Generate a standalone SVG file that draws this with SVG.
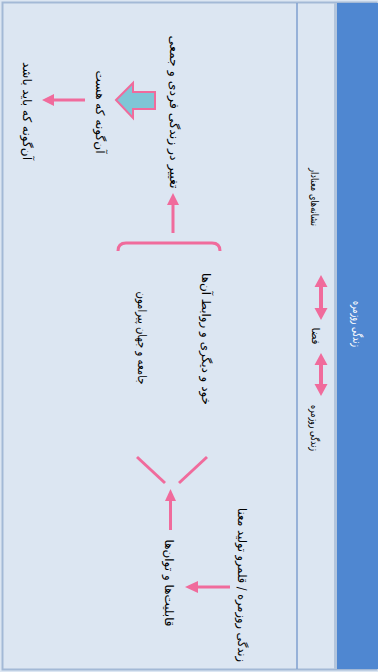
<svg xmlns="http://www.w3.org/2000/svg" width="378" height="672" viewBox="0 0 378 672">
<style>
.t{font-family:"DejaVu Sans",sans-serif;font-size:12px;fill:#000000;text-anchor:middle;dominant-baseline:central;direction:rtl}
.s{font-size:10.5px}
.w{fill:#ffffff}
.pk{fill:#f06b9c}
.ln{stroke:#f06b9c;stroke-width:3;fill:none;stroke-linecap:butt}
</style>
<rect x="0" y="0" width="378" height="672" fill="#dce6f2"/>
<rect x="2.5" y="2.5" width="374" height="667" fill="none" stroke="#a3b9d6" stroke-width="2"/>
<line x1="297" y1="3" x2="297" y2="669" stroke="#7f9fcf" stroke-width="1.5"/>
<rect x="334" y="3" width="3" height="666" fill="#b3c5dc"/>
<g id="title">
<rect x="337" y="3" width="41" height="666" fill="#4f87d1"/>
<text class="t w" x="357" y="324" transform="rotate(90 357 324)" textLength="46" lengthAdjust="spacingAndGlyphs">زندگی روزمره</text>
</g>
<g id="n-signs"><text class="t s" x="315" y="197" transform="rotate(90 315 197)" textLength="58" lengthAdjust="spacingAndGlyphs">نشانه‌های معنادار</text></g>
<g id="n-space"><text class="t s" x="316" y="336" transform="rotate(90 316 336)" textLength="17" lengthAdjust="spacingAndGlyphs">فضا</text></g>
<g id="n-daily"><text class="t s" x="315" y="428" transform="rotate(90 315 428)" textLength="46" lengthAdjust="spacingAndGlyphs">زندگی روزمره</text></g>
<g id="n-change"><text class="t" x="174" y="112" transform="rotate(90 174 112)" textLength="153" lengthAdjust="spacingAndGlyphs">تغییر در زندگی فردی و جمعی</text></g>
<g id="n-is"><text class="t" x="100" y="112" transform="rotate(90 100 112)" textLength="83" lengthAdjust="spacingAndGlyphs">آن‌گونه که هست</text></g>
<g id="n-should"><text class="t" x="27" y="111" transform="rotate(90 27 111)" textLength="98" lengthAdjust="spacingAndGlyphs">آن‌گونه که باید باشد</text></g>
<g id="n-self"><text class="t" x="206" y="339" transform="rotate(90 206 339)" textLength="132" lengthAdjust="spacingAndGlyphs">خود و دیگری و روابط آن‌ها</text></g>
<g id="n-society"><text class="t" x="142" y="338" transform="rotate(90 142 338)" textLength="93" lengthAdjust="spacingAndGlyphs">جامعه و جهان پیرامون</text></g>
<g id="n-abilities"><text class="t" x="169" y="583" transform="rotate(90 169 583)" textLength="87" lengthAdjust="spacingAndGlyphs">قابلیت‌ها و توان‌ها</text></g>
<g id="n-realm"><text class="t" x="242" y="585" transform="rotate(90 242 585)" textLength="154" lengthAdjust="spacingAndGlyphs">زندگی روزمره / قلمرو تولید معنا</text></g>
<g id="connectors">
<path class="pk" d="M321,275 L327.5,287 L323,287 L323,308 L327.5,308 L321,320 L314.5,308 L319,308 L319,287 L314.5,287 Z"/>
<path class="pk" d="M321,353 L327.5,365 L323,365 L323,384 L327.5,384 L321,396 L314.5,384 L319,384 L319,365 L314.5,365 Z"/>
<path class="ln" d="M118,251 Q118,243 126,243 L212,243 Q220,243 220,251"/>
<line class="ln" x1="173" y1="233" x2="173" y2="203"/>
<path class="pk" d="M167,205 L179,205 L173,193 Z"/>
<line class="ln" x1="137" y1="457" x2="165" y2="483"/>
<line class="ln" x1="207" y1="457" x2="179" y2="483"/>
<line class="ln" x1="170.5" y1="530" x2="170.5" y2="499"/>
<path class="pk" d="M165,501 L176,501 L170.5,489 Z"/>
<line class="ln" x1="230" y1="587" x2="196" y2="587"/>
<path class="pk" d="M198,581 L198,593 L185,587 Z"/>
<line class="ln" x1="85" y1="100" x2="52" y2="100"/>
<path class="pk" d="M54,94 L54,106 L42,100 Z"/>
<path d="M116,100 L133,83 L133,92 L155,92 L155,109 L133,109 L133,118 Z" fill="#7fc6d6" stroke="#f06b9c" stroke-width="2" stroke-linejoin="miter"/>
</g>
</svg>
